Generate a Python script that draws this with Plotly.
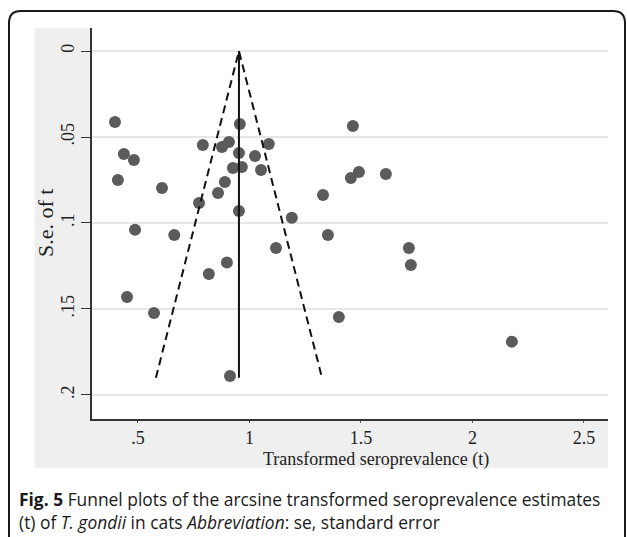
import plotly.graph_objects as go

# Data (transformed seroprevalence t, standard error of t)
t_vals = [0.397, 0.957, 1.464, 0.791, 0.877, 0.908, 1.087, 0.437, 0.482, 0.953,
          1.025, 0.926, 0.966, 1.052, 0.410, 0.890, 0.608, 0.859, 0.774, 0.953,
          1.190, 1.491, 1.455, 1.612, 1.330, 1.352, 1.715, 1.724, 0.487, 0.663,
          1.119, 0.899, 0.818, 0.451, 0.572, 0.913, 1.401, 2.177]
se_vals = [0.0413, 0.0424, 0.0436, 0.0547, 0.0558, 0.0529, 0.0541, 0.0599, 0.0634, 0.0593,
           0.0610, 0.0680, 0.0674, 0.0692, 0.0750, 0.0762, 0.0797, 0.0826, 0.0884, 0.0930,
           0.0970, 0.0703, 0.0738, 0.0715, 0.0837, 0.1070, 0.1145, 0.1244, 0.1040, 0.1070,
           0.1145, 0.1230, 0.1297, 0.1430, 0.1523, 0.1890, 0.1547, 0.1690]
pooled = 0.953
se_max = 0.19
z = 1.96

x_ticks = [0.5, 1, 1.5, 2, 2.5]
x_tick_labels = [".5", "1", "1.5", "2", "2.5"]
y_ticks = [0, 0.05, 0.1, 0.15, 0.2]
y_tick_labels = ["0", ".05", ".1", ".15", ".2"]

W, H = 627, 537
L, R, T, B = 92, 608, 28, 419


def px(x):
    return (x - L) / (R - L)


def py(y):
    return (B - y) / (B - T)


serif = "Liberation Serif"
fig = go.Figure()

fig.add_trace(go.Scatter(
    x=t_vals, y=se_vals, mode="markers",
    marker=dict(size=12, color="#5b5b5b", line=dict(width=0)),
    showlegend=False, hoverinfo="x+y"))

fig.add_trace(go.Scatter(
    x=[pooled, pooled], y=[0, se_max], mode="lines",
    line=dict(color="#111111", width=2), showlegend=False))

fig.add_trace(go.Scatter(
    x=[pooled - z * se_max, pooled, pooled + z * se_max], y=[se_max, 0, se_max],
    mode="lines", line=dict(color="#111111", width=2, dash="8px,5px"),
    showlegend=False))

shapes = []
# gray graph region (outside plot area)
shapes.append(dict(type="rect", xref="paper", yref="paper",
                   x0=px(35), x1=px(L), y0=py(468), y1=py(T),
                   fillcolor="#efefef", line=dict(width=0), layer="below"))
shapes.append(dict(type="rect", xref="paper", yref="paper",
                   x0=px(L), x1=px(R), y0=py(468), y1=py(B),
                   fillcolor="#efefef", line=dict(width=0), layer="below"))

# rounded outer border
r = 12
x0b, x1b, y0b, y1b = 9, 625, 11, 600
path = (f"M {px(x0b)},{py(y1b)} L {px(x0b)},{py(y0b + r)} "
        f"Q {px(x0b)},{py(y0b)} {px(x0b + r)},{py(y0b)} "
        f"L {px(x1b - r)},{py(y0b)} Q {px(x1b)},{py(y0b)} {px(x1b)},{py(y0b + r)} "
        f"L {px(x1b)},{py(y1b)}")
shapes.append(dict(type="path", xref="paper", yref="paper", path=path,
                   line=dict(color="#1a1a1a", width=2)))

annotations = [
    dict(text="Transformed seroprevalence (t)", xref="paper", yref="paper",
         x=px(376), y=py(459), showarrow=False, xanchor="center", yanchor="middle",
         font=dict(family=serif, size=18, color="#222222")),
    dict(text="S.e. of t", xref="paper", yref="paper",
         x=px(45), y=py(223), showarrow=False, xanchor="center", yanchor="middle",
         textangle=-90, font=dict(family=serif, size=22, color="#222222")),
    dict(text="<b>Fig. 5</b> Funnel plots of the arcsine transformed seroprevalence estimates",
         xref="paper", yref="paper", x=px(17), y=py(499), showarrow=False,
         xanchor="left", yanchor="middle",
         font=dict(family="Open Sans", size=17.4, color="#1a1a1a")),
    dict(text="(t) of <i>T. gondii</i> in cats <i>Abbreviation</i>: se, standard error",
         xref="paper", yref="paper", x=px(17), y=py(522), showarrow=False,
         xanchor="left", yanchor="middle",
         font=dict(family="Open Sans", size=17.4, color="#1a1a1a")),
]

fig.update_layout(
    width=W, height=H, autosize=False,
    margin=dict(l=L, r=W - R, t=T, b=H - B, pad=0),
    paper_bgcolor="white", plot_bgcolor="white",
    shapes=shapes, annotations=annotations,
    xaxis=dict(range=[0.294, 2.608], tickvals=x_ticks, ticktext=x_tick_labels,
               showgrid=False, zeroline=False, showline=True, linecolor="#333333",
               linewidth=1.5, ticks="outside", ticklen=2, tickcolor="#555555",
               tickfont=dict(family=serif, size=18, color="#222222")),
    yaxis=dict(range=[0.214, -0.0134], tickvals=y_ticks, ticktext=y_tick_labels,
               showgrid=True, gridcolor="#e6e6e6", gridwidth=1.5, zeroline=False,
               showline=True, linecolor="#333333", linewidth=1.5,
               ticks="outside", ticklen=9, tickcolor="#333333", tickangle=-90,
               tickfont=dict(family=serif, size=18, color="#222222")),
)

fig.write_html("out.html")
